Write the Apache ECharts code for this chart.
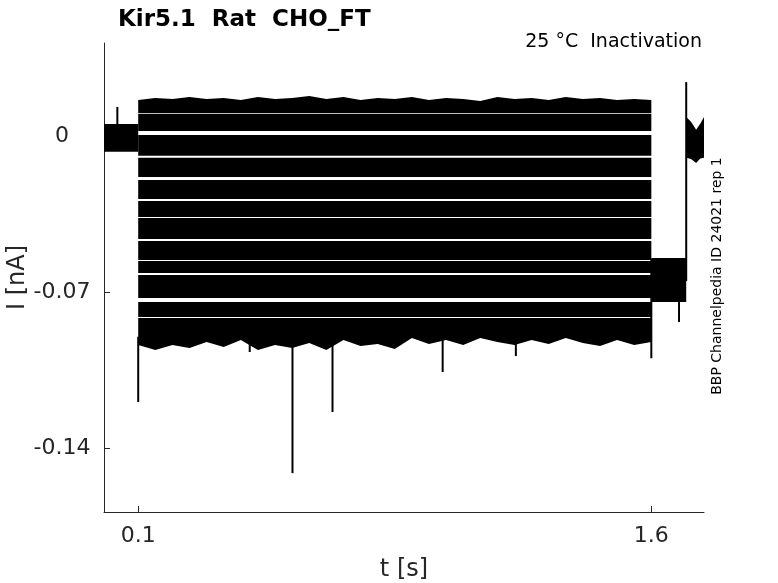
<!DOCTYPE html>
<html><head><meta charset="utf-8">
<script src="https://cdn.jsdelivr.net/npm/echarts@6/dist/echarts.min.js"></script>
<style>html,body{margin:0;padding:0;background:#fff}#c{width:778px;height:583px}</style>
</head><body><div id="c"></div>
<script>
// ---- tick labels ----
const xTicks = [0.1, 1.6];
const yTicks = [-0.14, -0.07, 0];

// ---- step pulse (0.1 – 1.6 s): envelope of each sweep [nA] ----
const pulseT = [0.1, 1.6];
const sweepHigh = [0.0179, 0.0103, 0.0008, -0.0095, -0.0195, -0.0289, -0.0366, -0.0469, -0.0559, -0.0622, -0.0744, -0.0816];
const sweepLow  = [0.0107, 0.0026, -0.0086, -0.0181, -0.0280, -0.0361, -0.0460, -0.0555, -0.0613, -0.0726, -0.0811, -0.0930];

// outer edges of the trace bundle (top of first sweep, bottom of last sweep)
const edgeT = [0.1, 0.15, 0.2, 0.25, 0.3, 0.35, 0.4, 0.45, 0.5, 0.55, 0.6, 0.65, 0.7, 0.75, 0.8, 0.85, 0.9, 0.95, 1.0, 1.05, 1.1, 1.15, 1.2, 1.25, 1.3, 1.35, 1.4, 1.45, 1.5, 1.55, 1.6];
const topEdge = [0.0166, 0.0175, 0.0170, 0.0179, 0.0170, 0.0175, 0.0166, 0.0179, 0.0170, 0.0175, 0.0184, 0.0170, 0.0179, 0.0166, 0.0175, 0.0170, 0.0179, 0.0166, 0.0175, 0.0170, 0.0161, 0.0179, 0.0170, 0.0175, 0.0166, 0.0179, 0.0170, 0.0175, 0.0166, 0.0170, 0.0166];
const bottomEdge = [-0.0937, -0.0960, -0.0937, -0.0951, -0.0924, -0.0946, -0.0915, -0.0960, -0.0937, -0.0951, -0.0928, -0.0960, -0.0915, -0.0942, -0.0933, -0.0955, -0.0906, -0.0933, -0.0915, -0.0937, -0.0906, -0.0924, -0.0937, -0.0915, -0.0933, -0.0906, -0.0928, -0.0942, -0.0915, -0.0937, -0.0924];

// ---- holding segments (all sweeps overlap) ----
const preT = [0, 0.1];
const preHigh = [0.0057, 0.0057];
const preLow = [-0.0068, -0.0068];
const tailT = [1.6, 1.702];
const tailHigh = [-0.0546, -0.0546];
const tailLow = [-0.0744, -0.0744];
const endT = [1.702, 1.716, 1.731, 1.743, 1.754];
const endHigh = [0.0089, 0.0067, 0.0031, 0.0058, 0.0089];
const endLow = [-0.0095, -0.0100, -0.0118, -0.0098, -0.0095];

// ---- transients / spikes: time, from, to [nA] ----
const spikeT    = [0.039, 0.1, 0.426, 0.551, 0.668, 0.990, 1.204, 1.6, 1.681, 1.702];
const spikeFrom = [0.0, -0.09, -0.09, -0.09, -0.09, -0.09, -0.09, -0.055, -0.07, -0.065];
const spikeTo   = [0.0134, -0.1194, -0.0969, -0.1514, -0.1239, -0.1059, -0.0987, -0.0997, -0.0834, 0.0246];

function band(t, hi, lo) {
  return {
    type: 'custom', silent: true, clip: true,
    data: [[t[0], hi[0]]],
    renderItem: (params, api) => {
      const pts = [];
      for (let k = 0; k < t.length; k++) pts.push(api.coord([t[k], hi[k]]));
      for (let k = t.length - 1; k >= 0; k--) pts.push(api.coord([t[k], lo[k]]));
      return { type: 'polygon', shape: { points: pts }, style: { fill: '#000' } };
    }
  };
}

const series = [];
const last = sweepHigh.length - 1;
sweepHigh.forEach((h, i) => {
  const t = (i === 0 || i === last) ? edgeT : pulseT;
  const hi = i === 0 ? topEdge : t.map(() => h);
  const lo = i === last ? bottomEdge : t.map(() => sweepLow[i]);
  series.push(band(t, hi, lo));
});
series.push(band(preT, preHigh, preLow));
series.push(band(tailT, tailHigh, tailLow));
series.push(band(endT, endHigh, endLow));
series.push({
  type: 'custom', silent: true, clip: true,
  data: spikeT.map((t, i) => [t, spikeFrom[i], spikeTo[i]]),
  encode: { x: 0, y: [1, 2] },
  renderItem: (params, api) => {
    const a = api.coord([api.value(0), api.value(1)]);
    const b = api.coord([api.value(0), api.value(2)]);
    return { type: 'line', shape: { x1: a[0], y1: a[1], x2: b[0], y2: b[1] }, style: { stroke: '#000', lineWidth: 2 } };
  }
});

const axisCol = '#262626';
const font = 'DejaVu Sans';
const chart = echarts.init(document.getElementById('c'), null, { renderer: 'canvas' });
chart.setOption({
  animation: false,
  backgroundColor: '#fff',
  grid: { left: 104, right: 74, top: 43, bottom: 71, containLabel: false, outerBoundsMode: 'none' },
  xAxis: {
    type: 'value', min: 0, max: 1.754,
    axisLine: { show: true, onZero: false, lineStyle: { color: axisCol, width: 1 } },
    axisTick: { show: true, inside: true, length: 6, customValues: xTicks, lineStyle: { color: axisCol } },
    axisLabel: { customValues: xTicks, fontSize: 22, color: axisCol, margin: 13, fontFamily: font, formatter: v => String(v) },
    splitLine: { show: false },
    name: 't [s]', nameLocation: 'middle', nameGap: 46, nameMoveOverlap: false,
    nameTextStyle: { fontSize: 24, color: axisCol, fontFamily: font }
  },
  yAxis: {
    type: 'value', min: -0.1689, max: 0.0422,
    axisLine: { show: true, onZero: false, lineStyle: { color: axisCol, width: 1 } },
    axisTick: { show: true, inside: true, length: 6, customValues: yTicks, lineStyle: { color: axisCol } },
    axisLabel: { customValues: yTicks, fontSize: 22, color: axisCol, margin: 42, align: 'center', fontFamily: font, formatter: v => (v === 0 ? '0' : String(v)) },
    splitLine: { show: false },
    name: 'I [nA]', nameLocation: 'middle', nameGap: 74, nameMoveOverlap: false,
    nameTextStyle: { fontSize: 24, color: axisCol, fontFamily: font }
  },
  graphic: [
    { type: 'text', left: 118, top: 9, style: { text: 'Kir5.1  Rat  CHO_FT', font: 'bold 23px "DejaVu Sans"', fill: '#000' } },
    { type: 'text', right: 76, top: 33, style: { text: '25 °C  Inactivation', font: '19px "DejaVu Sans"', fill: '#000' } },
    { type: 'text', x: 717, y: 276, rotation: Math.PI / 2, style: { text: 'BBP Channelpedia ID 24021 rep 1', font: '14px "DejaVu Sans"', fill: '#000', align: 'center', verticalAlign: 'middle' } }
  ],
  series: series
});
</script>
</body></html>
